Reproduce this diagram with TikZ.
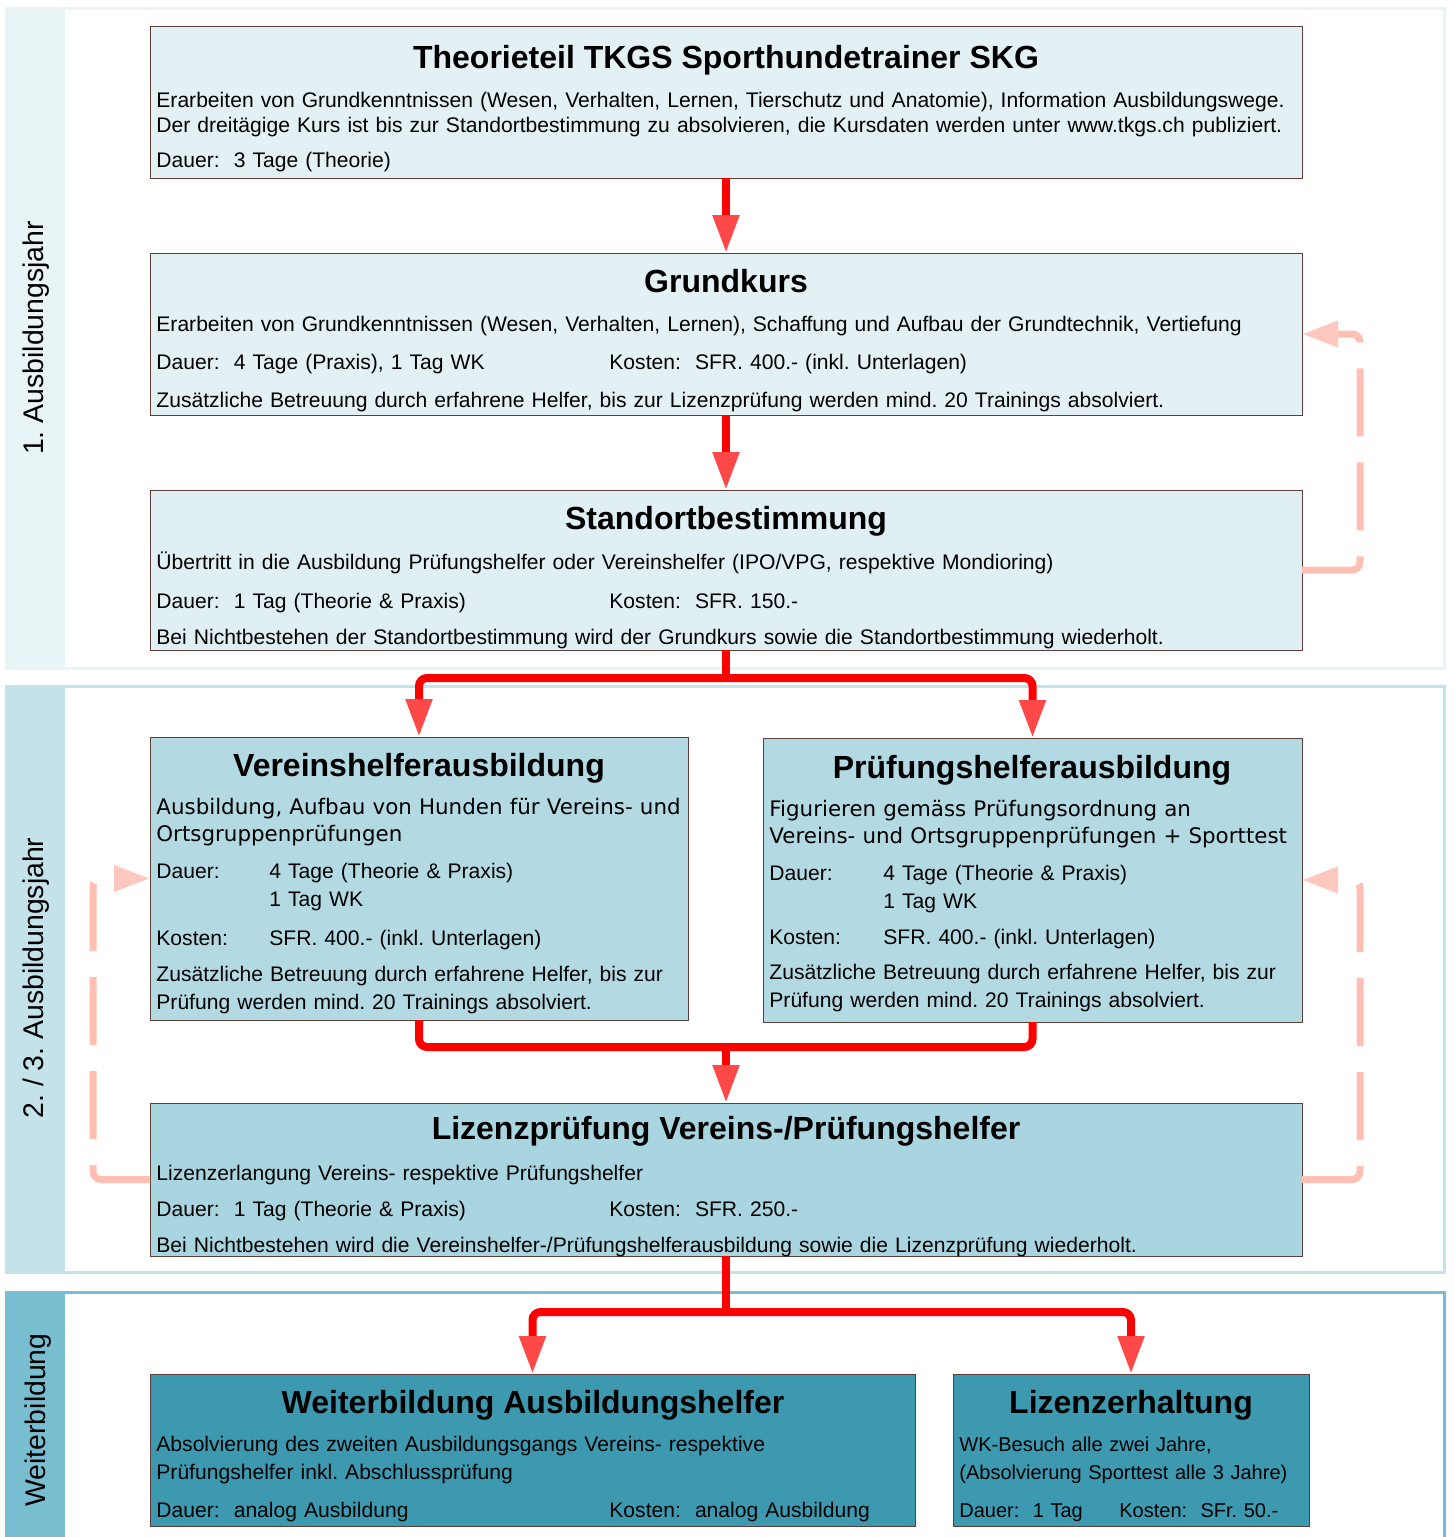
\documentclass[tikz,border=0pt]{standalone}
\usepackage{fontspec}
\setmainfont{Liberation Sans}
\newfontfamily\verdfont{DejaVu Sans}
\usetikzlibrary{arrows.meta, positioning, calc}
\frenchspacing

\definecolor{bandA}{HTML}{E9F4F7}
\definecolor{bandB}{HTML}{C4E2EA}
\definecolor{bandC}{HTML}{79BDD1}
\definecolor{fillA}{HTML}{E3F1F5}
\definecolor{fillS}{HTML}{E0EFF4}
\definecolor{fillB}{HTML}{B3DAE3}
\definecolor{fillC}{HTML}{A9D5E0}
\definecolor{fillD}{HTML}{3C99B0}
\definecolor{boxbrown}{HTML}{5E3E36}
\definecolor{arrowred}{HTML}{FF0000}
\definecolor{headred}{HTML}{FF4848}
\definecolor{fbpink}{HTML}{FFBFB3}
\definecolor{fbhead}{HTML}{FFC8BE}

\tikzset{
  box/.style={draw=boxbrown, line width=0.5pt, inner sep=0pt, outer sep=0pt, anchor=north west},
  boxtitle/.style={anchor=base, inner sep=0pt, font=\fontsize{16}{19}\selectfont\bfseries},
  boxtext/.style={anchor=base west, inner sep=0pt, text width=580pt, align=left, font=\fontsize{10.55}{12.5}\selectfont},
  boxdesc/.style={anchor=base west, inner sep=0pt, text width=300pt, align=left, font=\verdfont\fontsize{10.7}{13.5}\selectfont},
  redline/.style={draw=arrowred, line width=4pt, rounded corners=4pt},
  redarrow/.style={redline, -{Triangle[length=19pt, width=12.5pt, fill=headred, color=headred]}},
  fbarrow/.style={draw=fbpink, line width=3.5pt, dash pattern=on 34pt off 13pt, rounded corners=4pt,
    -{Triangle[length=18pt, width=12.5pt, fill=fbhead, color=fbhead]}},
  bandlabel/.style={rotate=90, anchor=base, inner sep=0pt, font=\fontsize{14.2}{16}\selectfont},
}

\begin{document}
\begin{tikzpicture}[x=0.5pt, y=-0.5pt]
  \useasboundingbox (0,0) rectangle (1454,1537);

  % bands
  \draw[draw=bandA, line width=1.5pt] (6,8) rectangle (1444,668);
  \fill[bandA] (6,8) rectangle (65,668);
  \draw[draw=bandB, line width=1.5pt] (6,686) rectangle (1444,1272);
  \fill[bandB] (6,686) rectangle (65,1272);
  \draw[draw=bandC, line width=1.5pt] (6,1292) rectangle (1444,1545);
  \fill[bandC] (6,1292) rectangle (65,1545);

  \node[bandlabel] (year1) at (43,338) {1. Ausbildungsjahr};
  \node[bandlabel] (year23) at (43,978) {2. / 3. Ausbildungsjahr};
  \node[bandlabel] (further) at (46,1420) {Weiterbildung};

  % boxes
  \node[box, fill=fillA, minimum width=576pt, minimum height=76pt] (theo) at (150,26) {};
  \node[box, fill=fillA, minimum width=576pt, minimum height=81pt] (grund) at (150,253) {};
  \node[box, fill=fillS, minimum width=576pt, minimum height=80pt] (stand) at (150,490) {};
  \node[box, fill=fillB, minimum width=269pt, minimum height=141.5pt] (verein) at (150,737) {};
  \node[box, fill=fillB, minimum width=269.5pt, minimum height=142pt] (pruef) at (763,738) {};
  \node[box, fill=fillC, minimum width=576pt, minimum height=76.5pt] (lizenz) at (150,1103) {};
  \node[box, fill=fillD, minimum width=382.5pt, minimum height=76pt] (weiter) at (150,1374) {};
  \node[box, fill=fillD, minimum width=178pt, minimum height=76pt] (erhalt) at (953,1374) {};

  % Theorieteil
  \node[boxtitle] (theoT) at (726,68) {Theorieteil TKGS Sporthundetrainer SKG};
  \node[boxtext] (theoB) at (156,107) {
    Erarbeiten von Grundkenntnissen (Wesen, Verhalten, Lernen, Tierschutz und Anatomie), Information Ausbildungswege.\\
    Der dreitägige Kurs ist bis zur Standortbestimmung zu absolvieren, die Kursdaten werden unter www.tkgs.ch publiziert.\\[5pt]
    Dauer:\ \ 3 Tage (Theorie)
  };

  % Grundkurs
  \node[boxtitle] (grundT) at (726,292) {Grundkurs};
  \node[boxtext] (grundB) at (156,331) {
    Erarbeiten von Grundkenntnissen (Wesen, Verhalten, Lernen), Schaffung und Aufbau der Grundtechnik, Vertiefung\\[6.5pt]
    \makebox[226.5pt][l]{Dauer:\ \ 4 Tage (Praxis), 1 Tag WK}Kosten:\ \ SFR. 400.- (inkl. Unterlagen)\\[6.5pt]
    Zusätzliche Betreuung durch erfahrene Helfer, bis zur Lizenzprüfung werden mind. 20 Trainings absolviert.
  };

  % Standortbestimmung
  \node[boxtitle] (standT) at (726,529) {Standortbestimmung};
  \node[boxtext] (standB) at (156,569) {
    Übertritt in die Ausbildung Prüfungshelfer oder Vereinshelfer (IPO/VPG, respektive Mondioring)\\[7pt]
    \makebox[226.5pt][l]{Dauer:\ \ 1 Tag (Theorie \& Praxis)}Kosten:\ \ SFR. 150.-\\[5.5pt]
    Bei Nichtbestehen der Standortbestimmung wird der Grundkurs sowie die Standortbestimmung wiederholt.
  };

  % Vereinshelfer
  \node[boxtitle] (vereinT) at (419,776) {Vereinshelferausbildung};
  \node[boxdesc] (vereinD) at (156,814) {
    Ausbildung, Aufbau von Hunden für Vereins- und\\
    Ortsgruppenprüfungen
  };
  \node[boxtext] (vereinB) at (156,878) {
    \makebox[56.5pt][l]{Dauer:}4 Tage (Theorie \& Praxis)\\[1.5pt]
    \hspace*{56.5pt}1 Tag WK\\[7pt]
    \makebox[56.5pt][l]{Kosten:}SFR. 400.- (inkl. Unterlagen)\\[5.5pt]
    Zusätzliche Betreuung durch erfahrene Helfer, bis zur\\[1.5pt]
    Prüfung werden mind. 20 Trainings absolviert.
  };

  % Pruefungshelfer
  \node[boxtitle] (pruefT) at (1032,778) {Prüfungshelferausbildung};
  \node[boxdesc] (pruefD) at (769,816) {
    Figurieren gemäss Prüfungsordnung an\\
    Vereins- und Ortsgruppenprüfungen + Sporttest
  };
  \node[boxtext] (pruefB) at (769,880) {
    \makebox[57pt][l]{Dauer:}4 Tage (Theorie \& Praxis)\\[1.5pt]
    \hspace*{57pt}1 Tag WK\\[5.5pt]
    \makebox[57pt][l]{Kosten:}SFR. 400.- (inkl. Unterlagen)\\[5pt]
    Zusätzliche Betreuung durch erfahrene Helfer, bis zur\\[1.5pt]
    Prüfung werden mind. 20 Trainings absolviert.
  };

  % Lizenzpruefung
  \node[boxtitle] (lizenzT) at (726,1139) {Lizenzprüfung Vereins-/Prüfungshelfer};
  \node[boxtext] (lizenzB) at (156,1180) {
    Lizenzerlangung Vereins- respektive Prüfungshelfer\\[5.5pt]
    \makebox[226.5pt][l]{Dauer:\ \ 1 Tag (Theorie \& Praxis)}Kosten:\ \ SFR. 250.-\\[5.5pt]
    Bei Nichtbestehen wird die Vereinshelfer-/Prüfungshelferausbildung sowie die Lizenzprüfung wiederholt.
  };

  % Weiterbildung
  \node[boxtitle] (weiterT) at (533,1413) {Weiterbildung Ausbildungshelfer};
  \node[boxtext] (weiterB) at (156,1451) {
    Absolvierung des zweiten Ausbildungsgangs Vereins- respektive\\[1.5pt]
    Prüfungshelfer inkl. Abschlussprüfung\\[6.5pt]
    \makebox[226.5pt][l]{Dauer:\ \ analog Ausbildung}Kosten:\ \ analog Ausbildung
  };

  % Lizenzerhaltung
  \node[boxtitle] (erhaltT) at (1131,1413) {Lizenzerhaltung};
  \node[boxtext, font=\fontsize{10}{12.5}\selectfont] (erhaltB) at (959,1451) {
    WK-Besuch alle zwei Jahre,\\[1.5pt]
    (Absolvierung Sporttest alle 3 Jahre)\\[6.5pt]
    \makebox[80pt][l]{Dauer:\ \ 1 Tag}Kosten:\ \ SFr. 50.-
  };

  % main flow
  \draw[redarrow] (theo.south) -- (grund.north);
  \draw[redarrow] (grund.south) -- (stand.north);
  \coordinate (split) at (726,678);
  \draw[redline] (stand.south) -- (split);
  \draw[redarrow] (split) -| (verein.north);
  \draw[redarrow] (split) -| (pruef.north);
  \coordinate (join) at (726,1047);
  \draw[redline] (verein.south) -- (verein.south |- join) -- (pruef.south |- join) -- (pruef.south);
  \draw[redarrow] (join) -- (lizenz.north);
  \coordinate (fork) at (726,1312);
  \draw[redline] (lizenz.south) -- (fork);
  \draw[redarrow] (fork) -| (weiter.north);
  \draw[redarrow] (fork) -| (erhalt.north);

  % repeat loops
  \draw[fbarrow] (stand.east) -- ++(58,0) |- (grund.east);
  \draw[fbarrow] (lizenz.west) -- ++(-57,0) |- (verein.west);
  \draw[fbarrow] (lizenz.east) -- ++(58,0) |- (pruef.east);
\end{tikzpicture}
\end{document}
